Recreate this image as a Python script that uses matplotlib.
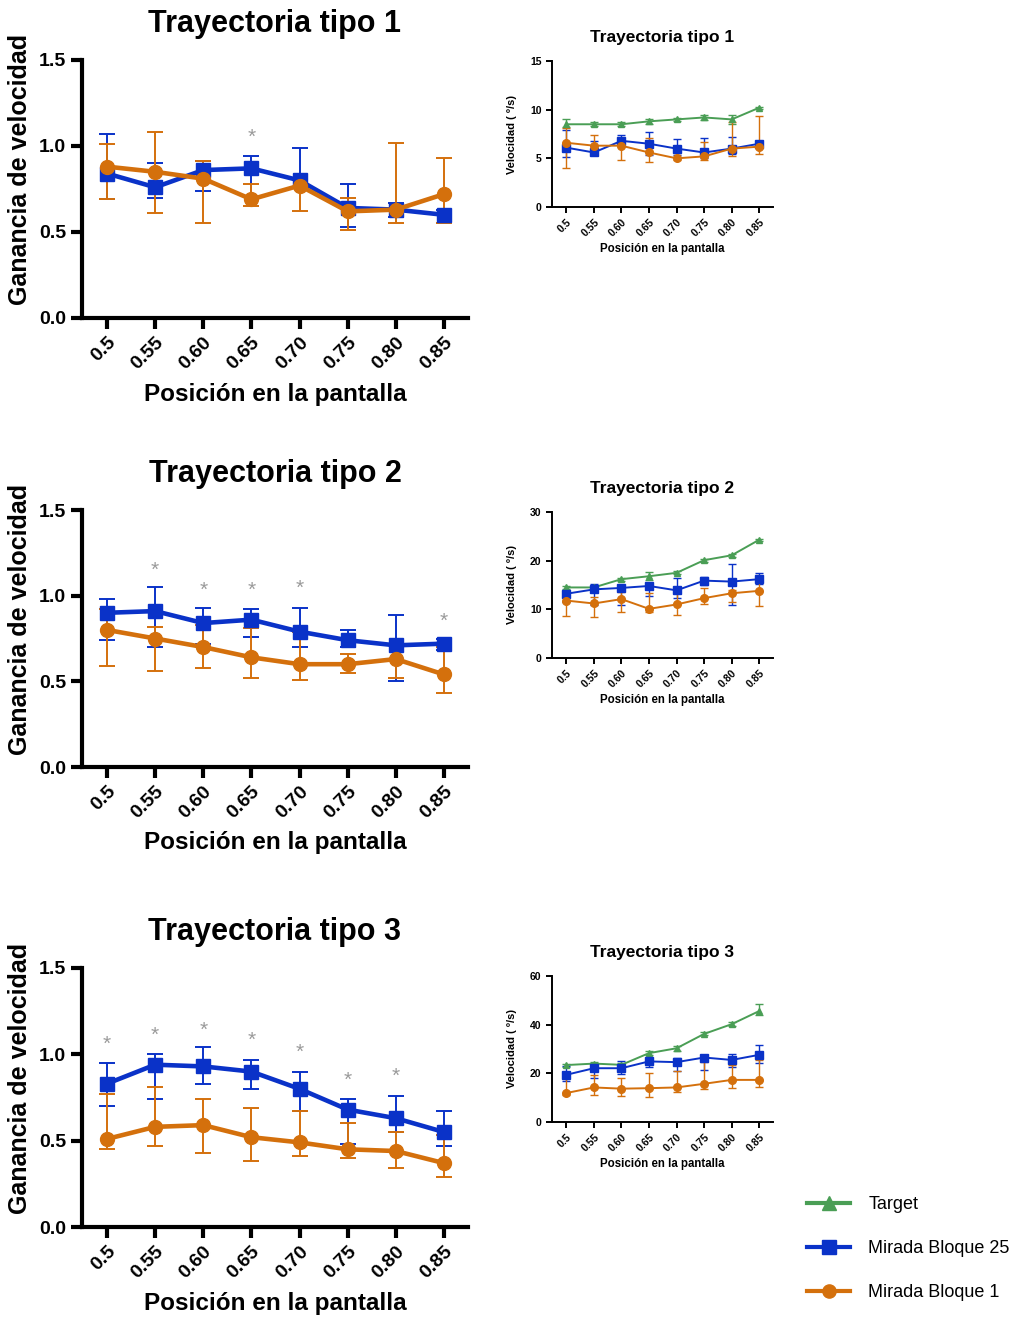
import numpy as np
import matplotlib
matplotlib.use("Agg")
import matplotlib.pyplot as plt
from matplotlib.lines import Line2D

plt.rcParams['font.family'] = ['Liberation Sans', 'DejaVu Sans']

BLUE = "#0a32c8"
ORANGE = "#d4700c"
GREEN = "#4a9e55"
STAR = "#9a9a9a"

positions = ["0.5", "0.55", "0.60", "0.65", "0.70", "0.75", "0.80", "0.85"]
series_labels = ["Target", "Mirada Bloque 25", "Mirada Bloque 1"]

# Ganancia de velocidad (mean, lower bar end, upper bar end)
g1_b25 = [0.84, 0.76, 0.86, 0.87, 0.80, 0.64, 0.63, 0.60]
g1_b25_lo = [0.69, 0.70, 0.74, 0.71, 0.76, 0.53, 0.59, 0.55]
g1_b25_hi = [1.07, 0.90, 0.91, 0.94, 0.99, 0.78, 0.67, 0.63]
g1_b1 = [0.88, 0.85, 0.81, 0.69, 0.77, 0.62, 0.63, 0.72]
g1_b1_lo = [0.69, 0.61, 0.55, 0.65, 0.62, 0.51, 0.55, 0.55]
g1_b1_hi = [1.01, 1.08, 0.91, 0.78, 0.80, 0.70, 1.02, 0.93]
g1_star_idx = [3]
g1_star_y = [1.05]

g2_b25 = [0.90, 0.91, 0.84, 0.86, 0.79, 0.74, 0.71, 0.72]
g2_b25_lo = [0.74, 0.70, 0.72, 0.76, 0.70, 0.70, 0.50, 0.68]
g2_b25_hi = [0.98, 1.05, 0.93, 0.92, 0.93, 0.80, 0.89, 0.75]
g2_b1 = [0.80, 0.75, 0.70, 0.64, 0.60, 0.60, 0.63, 0.54]
g2_b1_lo = [0.59, 0.56, 0.58, 0.52, 0.51, 0.55, 0.52, 0.43]
g2_b1_hi = [0.92, 0.82, 0.83, 0.81, 0.79, 0.66, 0.71, 0.70]
g2_star_idx = [1, 2, 3, 4, 7]
g2_star_y = [1.15, 1.03, 1.03, 1.04, 0.85]

g3_b25 = [0.83, 0.94, 0.93, 0.90, 0.80, 0.68, 0.63, 0.55]
g3_b25_lo = [0.70, 0.74, 0.83, 0.80, 0.67, 0.48, 0.55, 0.47]
g3_b25_hi = [0.95, 1.00, 1.04, 0.97, 0.90, 0.74, 0.76, 0.67]
g3_b1 = [0.51, 0.58, 0.59, 0.52, 0.49, 0.45, 0.44, 0.37]
g3_b1_lo = [0.45, 0.47, 0.43, 0.38, 0.41, 0.40, 0.34, 0.29]
g3_b1_hi = [0.77, 0.81, 0.74, 0.69, 0.67, 0.60, 0.55, 0.53]
g3_star_idx = [0, 1, 2, 3, 4, 5, 6]
g3_star_y = [1.06, 1.11, 1.14, 1.08, 1.01, 0.85, 0.87]

# Velocidad (deg/s)
v1_tgt = [8.5, 8.5, 8.5, 8.8, 9.0, 9.2, 9.0, 10.2]
v1_tgt_lo = [8.2, 8.3, 8.3, 8.5, 8.8, 8.9, 8.5, 10.1]
v1_tgt_hi = [9.0, 8.7, 8.7, 9.0, 9.1, 9.5, 9.5, 10.3]
v1_b25 = [6.1, 5.6, 6.8, 6.5, 6.0, 5.6, 6.0, 6.5]
v1_b25_lo = [5.1, 5.3, 6.3, 5.3, 5.3, 5.0, 5.4, 6.1]
v1_b25_hi = [7.9, 6.8, 7.4, 7.7, 7.0, 7.1, 7.2, 6.8]
v1_b1 = [6.6, 6.3, 6.3, 5.6, 5.0, 5.2, 6.0, 6.2]
v1_b1_lo = [4.0, 5.4, 4.8, 4.6, 4.8, 4.8, 5.2, 5.4]
v1_b1_hi = [8.1, 7.4, 6.9, 7.1, 5.5, 6.7, 8.7, 9.4]

v2_tgt = [14.5, 14.5, 16.2, 16.8, 17.5, 20.1, 21.1, 24.3]
v2_tgt_lo = [14.2, 14.2, 15.9, 16.0, 17.2, 19.8, 20.8, 24.1]
v2_tgt_hi = [14.8, 14.8, 16.5, 17.6, 17.9, 20.4, 21.4, 24.5]
v2_b25 = [13.2, 14.1, 14.4, 14.8, 13.9, 15.9, 15.7, 16.2]
v2_b25_lo = [11.6, 10.8, 10.8, 12.8, 12.3, 14.9, 10.9, 15.3]
v2_b25_hi = [14.0, 15.3, 14.9, 14.9, 16.4, 16.7, 19.3, 17.5]
v2_b1 = [11.8, 11.2, 12.1, 10.1, 11.0, 12.3, 13.3, 13.8]
v2_b1_lo = [8.6, 8.5, 9.4, 9.4, 8.9, 11.0, 11.6, 10.7]
v2_b1_hi = [13.4, 12.5, 13.6, 13.4, 14.5, 14.4, 14.0, 16.7]

v3_tgt = [23.4, 24.0, 23.5, 28.3, 30.3, 36.2, 40.2, 45.6]
v3_tgt_lo = [22.8, 23.3, 22.8, 27.6, 29.2, 35.6, 39.3, 44.0]
v3_tgt_hi = [24.0, 24.7, 24.2, 29.0, 31.4, 36.8, 41.1, 48.4]
v3_b25 = [19.4, 22.1, 22.1, 24.9, 24.6, 26.5, 25.5, 27.6]
v3_b25_lo = [16.7, 18.0, 19.7, 22.4, 21.0, 21.4, 22.8, 24.2]
v3_b25_hi = [23.1, 24.0, 24.9, 26.5, 26.2, 27.3, 27.9, 31.7]
v3_b1 = [11.9, 14.2, 13.7, 13.9, 14.2, 15.7, 17.3, 17.3]
v3_b1_lo = [10.9, 10.9, 10.5, 10.1, 12.3, 13.7, 13.9, 14.2]
v3_b1_hi = [18.0, 19.4, 18.0, 20.1, 20.8, 24.6, 23.5, 25.3]


def bars(mean, lo, hi):
    m = np.asarray(mean)
    return [np.abs(m - np.asarray(lo)), np.abs(np.asarray(hi) - m)]


def style_axes(ax, lw, tick_len, fs, ticks, fmt):
    for side in ("top", "right"):
        ax.spines[side].set_visible(False)
    for side in ("left", "bottom"):
        ax.spines[side].set_linewidth(lw)
    ax.tick_params(direction="out", length=tick_len, width=lw, labelsize=fs)
    x = np.arange(len(positions))
    ax.set_xticks(x)
    ax.set_xticklabels(positions, rotation=45, ha="right", va="top",
                       rotation_mode="anchor", fontweight="bold")
    ax.set_yticks(ticks)
    ax.set_yticklabels([fmt.format(t) for t in ticks], fontweight="bold")
    ax.set_xlim(-0.52, 7.5)
    ax.set_ylim(ticks[0], ticks[-1])


def gain_panel(ax, title, b25, b25_lo, b25_hi, b1, b1_lo, b1_hi, star_idx, star_y):
    x = np.arange(len(positions))
    ax.errorbar(x, b25, yerr=bars(b25, b25_lo, b25_hi), color=BLUE, lw=3.3,
                marker="s", ms=10, elinewidth=1.4, capsize=6, capthick=1.4,
                clip_on=False)
    ax.errorbar(x, b1, yerr=bars(b1, b1_lo, b1_hi), color=ORANGE, lw=3.3,
                marker="o", ms=10, elinewidth=1.4, capsize=6, capthick=1.4,
                clip_on=False)
    for i, y in zip(star_idx, star_y):
        ax.text(x[i], y, "*", color=STAR, fontsize=15, ha="center", va="center")
    style_axes(ax, 3, 8, 14, [0, 0.5, 1.0, 1.5], "{:.1f}")
    ax.text(0.5, 1.14, title, transform=ax.transAxes, ha="center", va="center",
            fontsize=22, fontweight="bold")
    ax.set_ylabel("Ganancia de velocidad", fontsize=18, fontweight="bold", va="center")
    ax.yaxis.set_label_coords(-0.16, 0.574)
    ax.set_xlabel("Posición en la pantalla", fontsize=17.5, fontweight="bold", va="center")
    ax.xaxis.set_label_coords(0.5, -0.295)


def speed_panel(ax, title, tgt, tgt_lo, tgt_hi, b25, b25_lo, b25_hi, b1, b1_lo, b1_hi, ticks):
    x = np.arange(len(positions))
    ax.errorbar(x, tgt, yerr=bars(tgt, tgt_lo, tgt_hi), color=GREEN, lw=1.4,
                marker="^", ms=5, elinewidth=1, capsize=3, capthick=1, clip_on=False)
    ax.errorbar(x, b25, yerr=bars(b25, b25_lo, b25_hi), color=BLUE, lw=1.4,
                marker="s", ms=5.5, elinewidth=1, capsize=3, capthick=1, clip_on=False)
    ax.errorbar(x, b1, yerr=bars(b1, b1_lo, b1_hi), color=ORANGE, lw=1.4,
                marker="o", ms=5.5, elinewidth=1, capsize=3, capthick=1, clip_on=False)
    style_axes(ax, 1.4, 4, 7.5, ticks, "{:d}")
    ax.text(0.5, 1.164, title, transform=ax.transAxes, ha="center", va="center",
            fontsize=12.5, fontweight="bold")
    ax.set_ylabel("Velocidad ( º/s)", fontsize=8, fontweight="bold", va="center")
    ax.yaxis.set_label_coords(-0.181, 0.5)
    ax.set_xlabel("Posición en la pantalla", fontsize=8.3, fontweight="bold", va="center")
    ax.xaxis.set_label_coords(0.5, -0.288)


fig = plt.figure(figsize=(10.15, 13.17), dpi=100)
fig.patch.set_facecolor("white")

W, H = 1015.0, 1317.0


def add_axes(left, top, right, bottom):
    return fig.add_axes([left / W, 1 - bottom / H, (right - left) / W, (bottom - top) / H])


ax_g1 = add_axes(82, 60, 468, 318)
ax_g2 = add_axes(82, 510, 468, 767)
ax_g3 = add_axes(82, 968, 468, 1227)
ax_v1 = add_axes(552, 61, 773, 207)
ax_v2 = add_axes(552, 512, 773, 658)
ax_v3 = add_axes(552, 976, 773, 1122)

gain_panel(ax_g1, "Trayectoria tipo 1", g1_b25, g1_b25_lo, g1_b25_hi,
           g1_b1, g1_b1_lo, g1_b1_hi, g1_star_idx, g1_star_y)
gain_panel(ax_g2, "Trayectoria tipo 2", g2_b25, g2_b25_lo, g2_b25_hi,
           g2_b1, g2_b1_lo, g2_b1_hi, g2_star_idx, g2_star_y)
gain_panel(ax_g3, "Trayectoria tipo 3", g3_b25, g3_b25_lo, g3_b25_hi,
           g3_b1, g3_b1_lo, g3_b1_hi, g3_star_idx, g3_star_y)

speed_panel(ax_v1, "Trayectoria tipo 1", v1_tgt, v1_tgt_lo, v1_tgt_hi,
            v1_b25, v1_b25_lo, v1_b25_hi, v1_b1, v1_b1_lo, v1_b1_hi, [0, 5, 10, 15])
speed_panel(ax_v2, "Trayectoria tipo 2", v2_tgt, v2_tgt_lo, v2_tgt_hi,
            v2_b25, v2_b25_lo, v2_b25_hi, v2_b1, v2_b1_lo, v2_b1_hi, [0, 10, 20, 30])
speed_panel(ax_v3, "Trayectoria tipo 3", v3_tgt, v3_tgt_lo, v3_tgt_hi,
            v3_b25, v3_b25_lo, v3_b25_hi, v3_b1, v3_b1_lo, v3_b1_hi, [0, 20, 40, 60])

# legend (proxy handles)
handles = [
    Line2D([], [], color=GREEN, lw=3, marker="^", ms=9.5),
    Line2D([], [], color=BLUE, lw=3, marker="s", ms=9.5),
    Line2D([], [], color=ORANGE, lw=3, marker="o", ms=9.5),
]
fig.legend(handles, series_labels, loc="upper left",
           bbox_to_anchor=(807 / W, 1 - 1196 / H), frameon=False,
           fontsize=13, handlelength=2.4, handletextpad=1.0,
           labelspacing=1.5, borderpad=0, borderaxespad=0)

fig.savefig("out.png", dpi=100, facecolor="white")
